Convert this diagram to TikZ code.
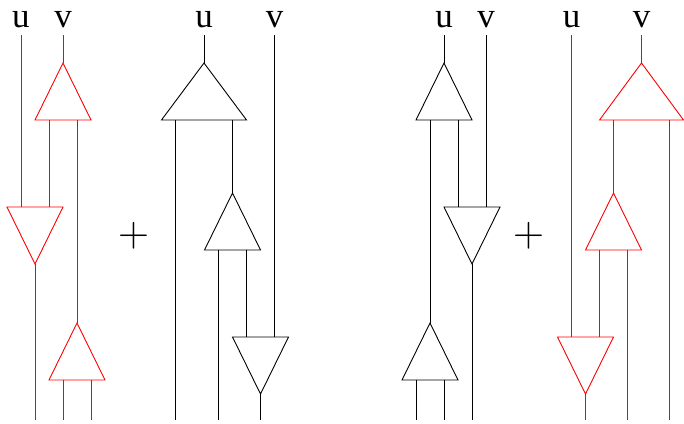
\documentclass[tikz,border=0pt]{standalone}
\usepackage{fontspec}
\newfontfamily\lblfont{Liberation Serif}
\tikzset{
  link/.style={line width=0.9pt},
  redlink/.style={red, line width=0.9pt},
  tri/.style={line width=0.9pt, line join=miter},
  redtri/.style={red, line width=0.9pt, line join=miter},
  lbl/.style={anchor=base, inner sep=0pt, font=\lblfont\fontsize{35}{35}\selectfont},
  plusop/.style={inner sep=0pt, font=\fontsize{43}{43}\selectfont},
}
% up triangle points: name, centre x, apex y, half width, leg offset
\newcommand\UpPts[5]{%
  \coordinate (#1-t) at (#2,#3);
  \coordinate (#1-l) at ({#2-#5},{#3+57});
  \coordinate (#1-r) at ({#2+#5},{#3+57});
  \coordinate (#1-p) at ({#2-#4},{#3+57});
  \coordinate (#1-q) at ({#2+#4},{#3+57});
}
\newcommand\UpDraw[2]{\draw[#2] (#1-t) -- (#1-p) -- (#1-q) -- cycle;}
% down triangle points: name, centre x, top y, half width, leg offset
\newcommand\DnPts[5]{%
  \coordinate (#1-b) at (#2,{#3+57});
  \coordinate (#1-l) at ({#2-#5},#3);
  \coordinate (#1-r) at ({#2+#5},#3);
  \coordinate (#1-p) at ({#2-#4},#3);
  \coordinate (#1-q) at ({#2+#4},#3);
}
\newcommand\DnDraw[2]{\draw[#2] (#1-p) -- (#1-q) -- (#1-b) -- cycle;}
\begin{document}
\begin{tikzpicture}[x=1pt,y=-1pt]
\useasboundingbox (0,0) rectangle (684,423);
% named points
\UpPts{A}{63}{63}{28}{14}
\DnPts{B}{35}{207}{28}{14}
\UpPts{C}{77}{323}{28}{14}
\UpPts{D}{204}{63}{42.5}{28.5}
\UpPts{E}{232.5}{193}{28}{14}
\DnPts{F}{260.5}{337}{28}{14}
\UpPts{G}{444}{63}{28}{14}
\DnPts{H}{472}{207}{28}{14}
\UpPts{I}{430}{323}{28}{14}
\UpPts{J}{641.5}{63}{42}{28}
\UpPts{K}{613.5}{193}{28}{14}
\DnPts{L}{585.5}{337}{28}{14}
\foreach \n/\x in {u1/21,v1/63,u2/204,v2/274.5,u3/444,v3/486,u4/571.5,v4/641.5}{
  \coordinate (\n-top) at (\x,35);
}
\coordinate (bot) at (0,420);

% ---------- diagram 1 (red) ----------
\draw[redlink] (u1-top) -- (B-l);
\draw[redlink] (v1-top) -- (A-t);
\draw[redlink] (A-l) -- (B-r);
\draw[redlink] (A-r) -- (C-t);
\draw[redlink] (B-b) -- (B-b |- bot);
\draw[redlink] (C-l) -- (C-l |- bot);
\draw[redlink] (C-r) -- (C-r |- bot);
\UpDraw{A}{redtri}\DnDraw{B}{redtri}\UpDraw{C}{redtri}

% ---------- diagram 2 (black) ----------
\draw[link] (u2-top) -- (D-t);
\draw[link] (D-l) -- (D-l |- bot);
\draw[link] (D-r) -- (E-t);
\draw[link] (E-l) -- (E-l |- bot);
\draw[link] (E-r) -- (F-l);
\draw[link] (v2-top) -- (F-r);
\draw[link] (F-b) -- (F-b |- bot);
\UpDraw{D}{tri}\UpDraw{E}{tri}\DnDraw{F}{tri}

% ---------- diagram 3 (black) ----------
\draw[link] (u3-top) -- (G-t);
\draw[link] (G-r) -- (H-l);
\draw[link] (v3-top) -- (H-r);
\draw[link] (G-l) -- (I-t);
\draw[link] (H-b) -- (H-b |- bot);
\draw[link] (I-l) -- (I-l |- bot);
\draw[link] (I-r) -- (I-r |- bot);
\UpDraw{G}{tri}\DnDraw{H}{tri}\UpDraw{I}{tri}

% ---------- diagram 4 (red) ----------
\draw[redlink] (v4-top) -- (J-t);
\draw[redlink] (J-r) -- (J-r |- bot);
\draw[redlink] (J-l) -- (K-t);
\draw[redlink] (K-r) -- (K-r |- bot);
\draw[redlink] (K-l) -- (L-r);
\draw[redlink] (u4-top) -- (L-l);
\draw[redlink] (L-b) -- (L-b |- bot);
\UpDraw{J}{redtri}\UpDraw{K}{redtri}\DnDraw{L}{redtri}

% ---------- text ----------
\node[lbl] (u1) at (21,27) {u};
\node[lbl] (v1) at (63,27) {v};
\node[lbl] (u2) at (204,27) {u};
\node[lbl] (v2) at (274.5,27) {v};
\node[lbl] (u3) at (444,27) {u};
\node[lbl] (v3) at (486,27) {v};
\node[lbl] (u4) at (571.5,27) {u};
\node[lbl] (v4) at (641.5,27) {v};
\node[plusop] (p1) at (133.5,236) {+};
\node[plusop] (p2) at (529,236) {+};
\end{tikzpicture}
\end{document}
